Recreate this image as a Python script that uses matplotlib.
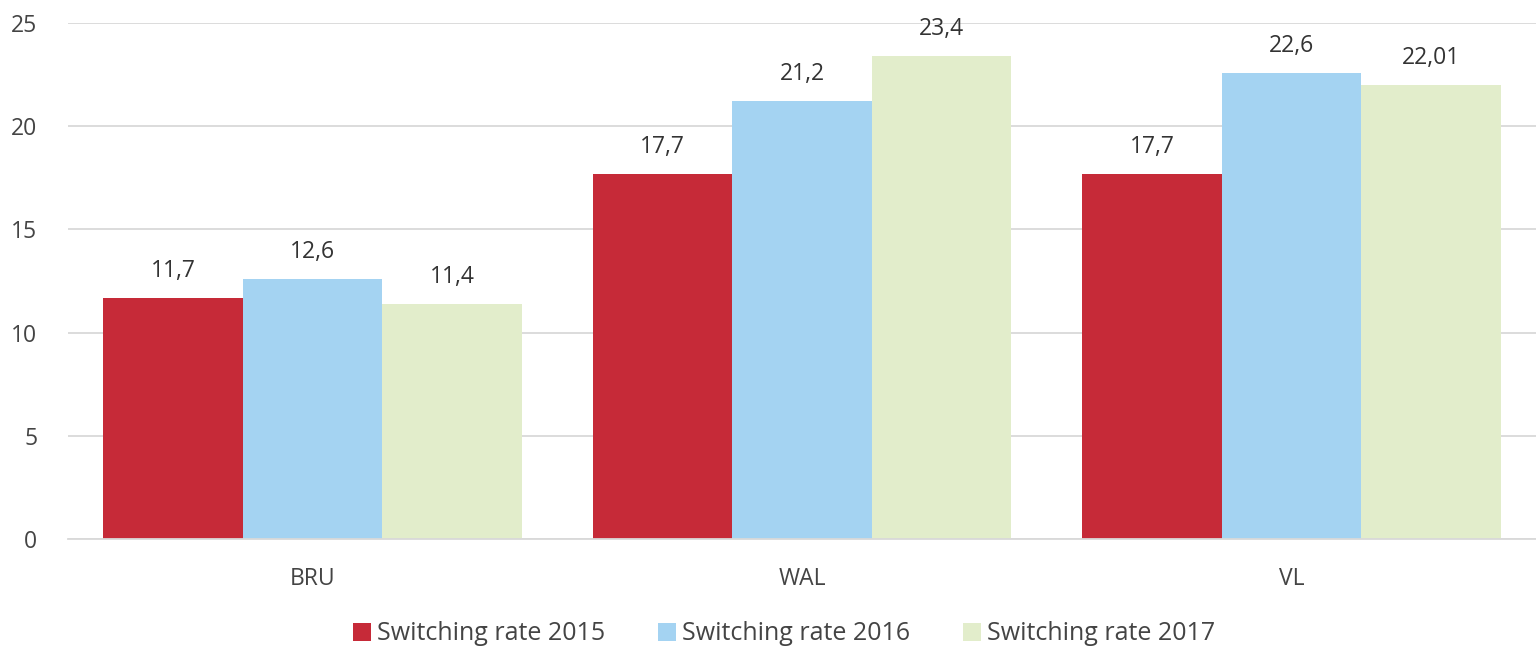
import numpy as np
import matplotlib.pyplot as plt

regions = ['BRU', 'WAL', 'VL']
rate_2015 = [11.7, 17.7, 17.7]
rate_2016 = [12.6, 21.2, 22.6]
rate_2017 = [11.4, 23.4, 22.01]
value_labels = [['11,7', '17,7', '17,7'],
                ['12,6', '21,2', '22,6'],
                ['11,4', '23,4', '22,01']]
series_names = ['Switching rate 2015', 'Switching rate 2016', 'Switching rate 2017']
colors = ['#C62A38', '#A4D3F2', '#E2EDCB']

plt.rcParams['font.family'] = ['Open Sans', 'DejaVu Sans']

fig = plt.figure(figsize=(15.36, 6.47), dpi=100)
ax = fig.add_axes([68 / 1536, 108 / 647, 1 - 68 / 1536, 516 / 647])

x = np.arange(len(regions))
width = 0.285
for i, (vals, name, col) in enumerate(zip([rate_2015, rate_2016, rate_2017], series_names, colors)):
    pos = x + (i - 1) * width
    ax.bar(pos, vals, width, color=col, label=name, zorder=2)
    for p, v, t in zip(pos, vals, value_labels[i]):
        ax.annotate(t, (p, v), xytext=(0, 27), textcoords='offset pixels',
                    ha='center', va='center', fontsize=16.5, color='#333333')

ax.set_xlim(-0.5, 2.5)
ax.set_ylim(0, 25)
ax.set_yticks([0, 5, 10, 15, 20, 25])
ax.set_xticks(x)
ax.set_xticklabels(regions)
ax.yaxis.grid(True, color='#D9D9D9', linewidth=1.3, zorder=0)
ax.set_axisbelow(True)
for s in ['top', 'right', 'left']:
    ax.spines[s].set_visible(False)
ax.spines['bottom'].set_color('#D9D9D9')
ax.spines['bottom'].set_linewidth(1.3)
ax.tick_params(axis='both', length=0, labelsize=16.5, labelcolor='#444444')
ax.tick_params(axis='y', pad=22)
ax.tick_params(axis='x', pad=20)

leg = fig.legend(loc='center', bbox_to_anchor=(784 / 1536, 1 - 634 / 647), ncol=3, frameon=False,
                 fontsize=18, handlelength=0.72, handleheight=0.72, handletextpad=0.25,
                 columnspacing=2.1, labelcolor='#444444')

fig.savefig('out.png', dpi=100)
